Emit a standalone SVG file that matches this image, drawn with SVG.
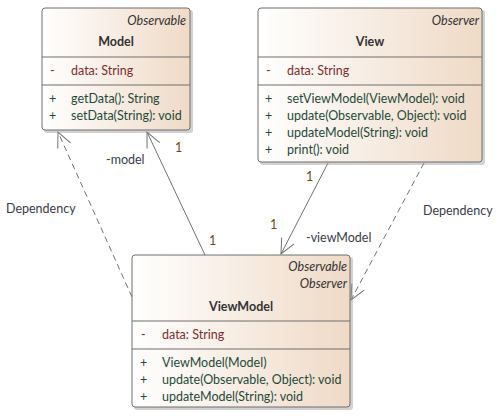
<svg xmlns="http://www.w3.org/2000/svg" width="498" height="420" viewBox="0 0 498 420">
<defs>
  <linearGradient id="g" x1="0" y1="0" x2="1" y2="0">
    <stop offset="0" stop-color="#ffffff"/>
    <stop offset="1" stop-color="#efdac6"/>
  </linearGradient>
  <marker id="open" viewBox="-18 -10 20 20" refX="0" refY="0" markerWidth="20" markerHeight="20" markerUnits="userSpaceOnUse" orient="auto">
    <path d="M-15,-7 L0,0 L-15,7" fill="none" stroke="#707070" stroke-width="1"/>
  </marker>
</defs>
<style>
  text { font-family: Lato, "Liberation Sans", sans-serif; font-size: 12.5px; fill: #222; }
  .box { fill: url(#g); stroke: #6e6e6e; stroke-width: 1; }
  .shadow { fill: #9a9a9a; opacity: 0.45; }
  .div { stroke: #6e6e6e; stroke-width: 1; }
  .st { font-style: italic; text-anchor: end; fill: #333; }
  .name { font-weight: bold; text-anchor: middle; fill: #333; }
  .attr { fill: #7a2e2e; }
  .meth { fill: #1f4a3a; }
  .lbl { fill: #3a3a4a; }
  .mult { fill: #6a4a10; }
  .assoc { stroke: #707070; stroke-width: 1; fill: none; marker-end: url(#open); }
  .dep { stroke: #707070; stroke-width: 1; fill: none; stroke-dasharray: 6 4; marker-end: url(#open); }
</style>
<rect width="498" height="420" fill="#ffffff"/>

<g id="connectors">
  <path class="dep" d="M132,297 L58,132"/>
  <path class="assoc" d="M205,255 L147,132"/>
  <path class="assoc" d="M328,163 L281,254"/>
  <path class="dep" d="M424,163 L351,300"/>
  <text class="lbl" x="6" y="213">Dependency</text>
  <text class="lbl" x="106" y="164">-model</text>
  <text class="mult" x="175" y="152">1</text>
  <text class="mult" x="209" y="245">1</text>
  <text class="mult" x="306" y="181">1</text>
  <text class="mult" x="270" y="229">1</text>
  <text class="lbl" x="306" y="242">-viewModel</text>
  <text class="lbl" x="423" y="215">Dependency</text>
</g>

<g id="Model">
  <rect class="shadow" x="44" y="10" width="149" height="123" rx="3"/>
  <rect class="box" x="42" y="8" width="148" height="122" rx="3"/>
  <line class="div" x1="42" y1="57" x2="190" y2="57"/>
  <line class="div" x1="42" y1="85" x2="190" y2="85"/>
  <text class="st" x="186" y="25">Observable</text>
  <text class="name" x="116" y="46">Model</text>
  <text class="attr" x="50" y="75">-</text>
  <text class="attr" x="71" y="75">data: String</text>
  <text class="meth" x="49" y="103">+</text>
  <text class="meth" x="71" y="103">getData(): String</text>
  <text class="meth" x="49" y="120">+</text>
  <text class="meth" x="71" y="120">setData(String): void</text>
</g>

<g id="View">
  <rect class="shadow" x="260" y="10" width="225" height="155" rx="3"/>
  <rect class="box" x="258" y="8" width="224" height="154" rx="3"/>
  <line class="div" x1="258" y1="57" x2="482" y2="57"/>
  <line class="div" x1="258" y1="85" x2="482" y2="85"/>
  <text class="st" x="479" y="25">Observer</text>
  <text class="name" x="370" y="46">View</text>
  <text class="attr" x="266" y="75">-</text>
  <text class="attr" x="287" y="75">data: String</text>
  <text class="meth" x="265" y="103">+</text>
  <text class="meth" x="287" y="103">setViewModel(ViewModel): void</text>
  <text class="meth" x="265" y="120">+</text>
  <text class="meth" x="287" y="120">update(Observable, Object): void</text>
  <text class="meth" x="265" y="137">+</text>
  <text class="meth" x="287" y="137">updateModel(String): void</text>
  <text class="meth" x="265" y="154">+</text>
  <text class="meth" x="287" y="154">print(): void</text>
</g>

<g id="ViewModel">
  <rect class="shadow" x="134" y="257" width="219" height="153" rx="3"/>
  <rect class="box" x="132" y="255" width="218" height="152" rx="3"/>
  <line class="div" x1="132" y1="321" x2="350" y2="321"/>
  <line class="div" x1="132" y1="349" x2="350" y2="349"/>
  <text class="st" x="347" y="271">Observable</text>
  <text class="st" x="347" y="288">Observer</text>
  <text class="name" x="241" y="311">ViewModel</text>
  <text class="attr" x="141" y="339">-</text>
  <text class="attr" x="162" y="339">data: String</text>
  <text class="meth" x="140" y="367">+</text>
  <text class="meth" x="162" y="367">ViewModel(Model)</text>
  <text class="meth" x="140" y="384">+</text>
  <text class="meth" x="162" y="384">update(Observable, Object): void</text>
  <text class="meth" x="140" y="401">+</text>
  <text class="meth" x="162" y="401">updateModel(String): void</text>
</g>
</svg>
